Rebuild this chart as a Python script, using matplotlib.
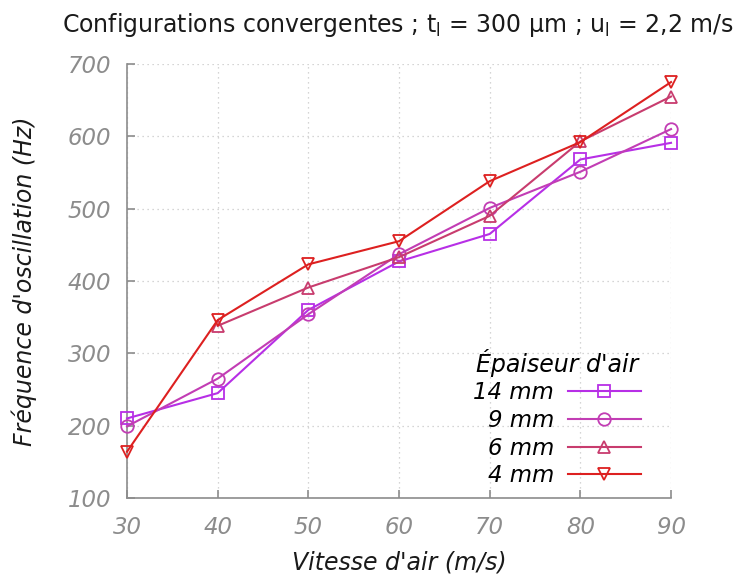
import numpy as np
import matplotlib
matplotlib.use("Agg")
import matplotlib.pyplot as plt

# air velocity (m/s)
vitesse = [30, 40, 50, 60, 70, 80, 90]

# oscillation frequency (Hz) per air gap thickness
freq_14mm = [210, 245, 360, 427, 465, 568, 591]
freq_9mm = [199, 265, 354, 437, 501, 551, 610]
freq_6mm = [np.nan, 338, 391, 433, 490, 593, 655]
freq_4mm = [164, 346, 423, 455, 538, 592, 675]

labels = ["14 mm", "9 mm", "6 mm", "4 mm"]
series = [freq_14mm, freq_9mm, freq_6mm, freq_4mm]
colors = ["#b72fe6", "#c23db4", "#c83c6e", "#dd2020"]
markers = ["s", "o", "^", "v"]

axis_grey = "#8c8c8c"

fig = plt.figure(figsize=(7.37, 5.78), dpi=100)
ax = fig.add_axes([0.1723, 0.1384, 0.7382, 0.7509])

for y, lab, c, m in zip(series, labels, colors, markers):
    ax.plot(vitesse, y, color=c, marker=m, markersize=9, markerfacecolor="none",
            markeredgecolor=c, markeredgewidth=1.3, linewidth=1.5,
            label=lab, clip_on=False, zorder=3)

ax.set_xlim(30, 90)
ax.set_ylim(100, 700)
ax.set_xticks(vitesse)
ax.set_yticks(range(100, 701, 100))

for side in ["top", "right"]:
    ax.spines[side].set_visible(False)
for side in ["left", "bottom"]:
    ax.spines[side].set_color(axis_grey)
    ax.spines[side].set_linewidth(1.2)

ax.tick_params(direction="in", length=6, width=1.2, color=axis_grey,
               labelcolor=axis_grey, labelsize=16.5)
ax.tick_params(axis="x", pad=13)
ax.tick_params(axis="y", pad=11.5)
for t in ax.get_xticklabels() + ax.get_yticklabels():
    t.set_fontstyle("italic")

ax.grid(True, linestyle=(0, (1, 3)), color="#c8c8c8", linewidth=0.9)
ax.set_axisbelow(True)

ax.set_xlabel("Vitesse d'air (m/s)", fontsize=17, fontstyle="italic",
              color="#1a1a1a", labelpad=8)
ax.set_ylabel("Fréquence d'oscillation (Hz)", fontsize=17, fontstyle="italic",
              color="#1a1a1a", labelpad=22)

fig.text(0.5407, 0.957,
         r"Configurations convergentes ; $\mathrm{t_l}$ = 300 µm ; $\mathrm{u_l}$ = 2,2 m/s",
         ha="center", va="center", fontsize=17, color="#1a1a1a")

leg = ax.legend(loc="lower right", bbox_to_anchor=(0.974, -0.012), markerfirst=False,
                frameon=False, title="Épaiseur d'air", fontsize=16.5,
                handlelength=3.2, handletextpad=0.6, labelspacing=0.2,
                borderaxespad=0.3)
leg.get_title().set_fontsize(17)
leg.get_title().set_fontstyle("italic")
for t in leg.get_texts():
    t.set_fontstyle("italic")

fig.savefig("out.png", dpi=100)
